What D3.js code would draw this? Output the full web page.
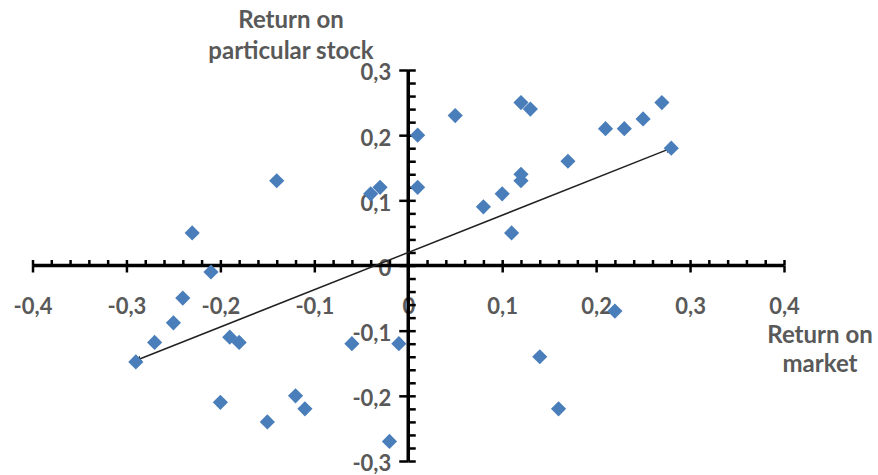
<!DOCTYPE html>
<html>
<head>
<meta charset="utf-8">
<script src="https://cdn.jsdelivr.net/npm/d3@7"></script>
<style>
  html, body { margin: 0; padding: 0; background: #fff; }
  svg { display: block; }
</style>
</head>
<body>
<div id="chart"></div>
<script>
// data
const marketReturn = [-0.29, -0.27, -0.25, -0.24, -0.23, -0.21, -0.19, -0.18, -0.2, -0.15,
                      -0.14, -0.12, -0.11, -0.06, -0.01, -0.02, -0.04, -0.03, 0.01, 0.01,
                      0.05, 0.12, 0.13, 0.12, 0.12, 0.10, 0.08, 0.11, 0.17, 0.21,
                      0.23, 0.25, 0.27, 0.28, 0.22, 0.14, 0.16];
const stockReturn = [-0.148, -0.118, -0.088, -0.05, 0.05, -0.01, -0.11, -0.118, -0.21, -0.24,
                     0.13, -0.2, -0.22, -0.12, -0.12, -0.27, 0.11, 0.12, 0.12, 0.2,
                     0.23, 0.25, 0.24, 0.14, 0.13, 0.11, 0.09, 0.05, 0.16, 0.21,
                     0.21, 0.225, 0.25, 0.18, -0.07, -0.14, -0.22];
const xTicks = [-0.4, -0.3, -0.2, -0.1, 0, 0.1, 0.2, 0.3, 0.4];
const yTicks = [-0.3, -0.2, -0.1, 0, 0.1, 0.2, 0.3];
const trendSlope = 0.572;
const trendIntercept = 0.02;
const yTitle = ["Return on", "particular stock"];
const xTitle = ["Return on", "market"];

const width = 878, height = 475;
const font = "Lato, 'Open Sans', sans-serif";
const textColor = "#595959";
const blue = "#4a7ebb";

const x = d3.scaleLinear([-0.4, 0.4], [32.5, 784]);
const y = d3.scaleLinear([-0.3, 0.3], [461, 70]);

const locale = d3.formatLocale({decimal: ",", thousands: ".", grouping: [3], currency: ["", ""], minus: "-"});
const fmt = locale.format(".1~f");

const svg = d3.select("#chart").append("svg")
    .attr("width", width)
    .attr("height", height)
    .attr("viewBox", [0, 0, width, height])
    .attr("font-family", font);

svg.append("rect").attr("width", width).attr("height", height).attr("fill", "#fff");

// tick labels first, axes are drawn over them
const xLab = svg.append("g")
    .attr("transform", `translate(0,${y(0)})`)
    .call(d3.axisBottom(x).tickValues(xTicks).tickSize(0).tickPadding(33).tickFormat(fmt))
    .call(g => g.select(".domain").remove());
const yLab = svg.append("g")
    .attr("transform", `translate(${x(0)},0)`)
    .call(d3.axisLeft(y).tickValues(yTicks).tickSize(0).tickPadding(17).tickFormat(fmt))
    .call(g => g.select(".domain").remove());
svg.selectAll(".tick text")
    .attr("font-family", font)
    .attr("font-size", 22)
    .attr("font-weight", 700)
    .attr("fill", textColor);
yLab.selectAll(".tick text").attr("dy", "0.45em");

// x axis: minor ticks inside (up), major ticks cross
const minorX = d3.range(-40, 41, 2).map(d => d / 100);
const minorY = d3.range(-30, 31, 2).map(d => d / 100);

const axisStyle = g => {
    g.selectAll(".tick text").remove();
    g.selectAll("line").attr("stroke", "#000").attr("stroke-width", 2.5);
    g.select(".domain").remove();
};

const xAxisG = svg.append("g").attr("transform", `translate(0,${y(0)})`);
xAxisG.append("g").call(d3.axisTop(x).tickValues(minorX).tickSize(5.5).tickFormat("")).call(axisStyle);
xAxisG.append("g").call(d3.axisBottom(x).tickValues(xTicks).tickSize(7).tickFormat("")).call(axisStyle);
xAxisG.append("line")
    .attr("x1", x(-0.4)).attr("x2", x(0.4))
    .attr("stroke", "#000").attr("stroke-width", 3.5);

const yAxisG = svg.append("g").attr("transform", `translate(${x(0)},0)`);
yAxisG.append("g").call(d3.axisRight(y).tickValues(minorY).tickSize(7.5).tickFormat("")).call(axisStyle);
yAxisG.append("g").call(d3.axisLeft(y).tickValues(yTicks).tickSize(9).tickFormat("")).call(axisStyle);
yAxisG.append("line")
    .attr("y1", y(-0.3)).attr("y2", y(0.3))
    .attr("stroke", "#000").attr("stroke-width", 3.5);

// axis titles
svg.append("text")
    .attr("text-anchor", "middle")
    .attr("font-size", 24).attr("font-weight", 700).attr("fill", textColor)
    .selectAll("tspan").data(yTitle).join("tspan")
    .attr("x", 291)
    .attr("y", (d, i) => 28 + i * 31)
    .text(d => d);

svg.append("text")
    .attr("text-anchor", "middle")
    .attr("font-size", 24).attr("font-weight", 700).attr("fill", textColor)
    .selectAll("tspan").data(xTitle).join("tspan")
    .attr("x", 820)
    .attr("y", (d, i) => 343 + i * 29)
    .text(d => d);

// trend line with small arrow heads
const defs = svg.append("defs");
defs.append("marker")
    .attr("id", "arrow")
    .attr("viewBox", "0 0 10 10")
    .attr("refX", 9).attr("refY", 5)
    .attr("markerWidth", 4).attr("markerHeight", 4)
    .attr("orient", "auto-start-reverse")
    .append("path")
    .attr("d", "M0,0L10,5L0,10z")
    .attr("fill", "#222");

const [xmin, xmax] = d3.extent(marketReturn);
svg.append("line")
    .attr("x1", x(xmin)).attr("y1", y(trendIntercept + trendSlope * xmin))
    .attr("x2", x(xmax)).attr("y2", y(trendIntercept + trendSlope * xmax))
    .attr("stroke", "#222")
    .attr("stroke-width", 1.5)
    .attr("marker-start", "url(#arrow)")
    .attr("marker-end", "url(#arrow)");

// points
const square = d3.symbol(d3.symbolSquare, 115);
svg.append("g")
    .selectAll("path")
    .data(d3.range(marketReturn.length))
    .join("path")
    .attr("transform", i => `translate(${x(marketReturn[i])},${y(stockReturn[i])}) rotate(45)`)
    .attr("d", square)
    .attr("fill", blue);
</script>
</body>
</html>
